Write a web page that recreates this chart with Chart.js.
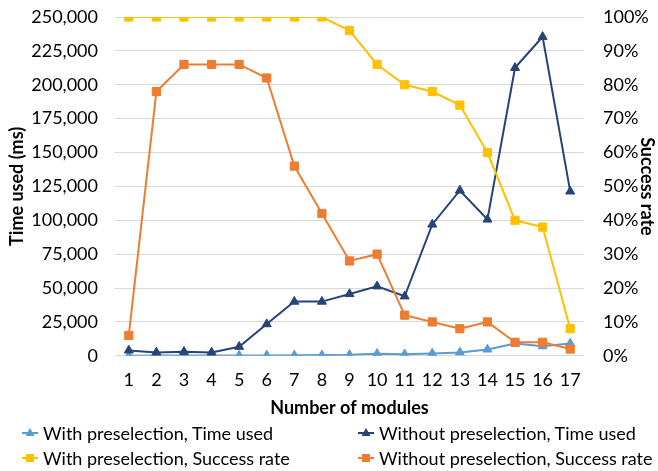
<!DOCTYPE html>
<html>
<head>
<meta charset="utf-8">
<script src="https://cdn.jsdelivr.net/npm/chart.js@4/dist/chart.umd.min.js"></script>
<style>
  html, body { margin: 0; padding: 0; background: #ffffff; }
  #wrap { position: relative; width: 658px; height: 471px; }
  #chart { position: absolute; left: 0; top: 0; }
  #legend { position: absolute; left: 0; top: 0; width: 658px; height: 471px; pointer-events: none;
            font-family: Lato, "Open Sans", sans-serif; font-size: 18px; color: #000; }
  .item { position: absolute; display: flex; align-items: center; white-space: nowrap; height: 24px; }
  .item svg { margin-right: 5px; }
</style>
</head>
<body>
<div id="wrap">
  <canvas id="chart" width="658" height="471"></canvas>
  <div id="legend"></div>
</div>
<script>
// Number of modules on the x axis
const modules = ['1','2','3','4','5','6','7','8','9','10','11','12','13','14','15','16','17'];

// Time used (ms)
const timeWithPreselection = [100, 150, 200, 200, 250, 300, 350, 500, 700, 1500, 1200, 1700, 2500, 4700, 9100, 7100, 9100];
const timeWithoutPreselection = [4000, 2500, 3000, 2500, 6700, 23400, 40000, 40000, 45600, 51300, 43900, 96900, 122000, 100600, 212500, 235400, 121300];

// Success rate (%)
const rateWithPreselection = [100, 100, 100, 100, 100, 100, 100, 100, 96, 86, 80, 78, 74, 60, 40, 38, 8];
const rateWithoutPreselection = [6, 78, 86, 86, 86, 82, 56, 42, 28, 30, 12, 10, 8, 10, 4, 4, 2];

// Axis tick values
const timeTicks = [0, 25000, 50000, 75000, 100000, 125000, 150000, 175000, 200000, 225000, 250000];
const rateTicks = [0, 10, 20, 30, 40, 50, 60, 70, 80, 90, 100];

const FONT = 'Lato, "Open Sans", sans-serif';
const LIGHT_BLUE = '#5B9BD5';
const DARK_BLUE = '#264478';
const YELLOW = '#FFC000';
const ORANGE = '#ED7D31';

function series(label, data, color, style, axis, order) {
  return {
    label, data, yAxisID: axis, order,
    borderColor: color, backgroundColor: color,
    borderWidth: 2, pointStyle: style,
    pointRadius: style === 'rect' ? 5.8 : 5.2,
    pointBorderWidth: 1, pointBorderColor: color, pointBackgroundColor: color,
    tension: 0, fill: false
  };
}

const datasets = [
  series('With preselection, Time used', timeWithPreselection, LIGHT_BLUE, 'triangle', 'yTime', 3),
  series('Without preselection, Time used', timeWithoutPreselection, DARK_BLUE, 'triangle', 'yTime', 2),
  series('With preselection, Success rate', rateWithPreselection, YELLOW, 'rect', 'yRate', 1),
  series('Without preselection, Success rate', rateWithoutPreselection, ORANGE, 'rect', 'yRate', 0)
];

// Value axes keep a fixed width and let their end labels overhang the plot
function fixVertical(width) {
  return s => { s.width = width; s.paddingTop = 0; s.paddingBottom = 0; };
}

const chart = new Chart(document.getElementById('chart'), {
  type: 'line',
  data: { labels: modules, datasets },
  options: {
    responsive: false,
    animation: false,
    layout: { padding: { left: 0, right: 0, top: 17, bottom: 52 } },
    plugins: { legend: { display: false }, tooltip: { enabled: false } },
    scales: {
      x: {
        offset: true,
        grid: { display: false, drawTicks: false },
        border: { display: false },
        ticks: { color: '#000', font: { family: FONT, size: 18 }, padding: 14, maxRotation: 0, autoSkip: false },
        title: { display: true, text: 'Number of modules', color: '#000',
                 font: { family: FONT, size: 18, weight: 'bold' }, padding: { top: -8, bottom: 0 } }
      },
      yTime: {
        position: 'left', min: 0, max: 250000,
        afterBuildTicks: s => { s.ticks = timeTicks.map(v => ({ value: v })); },
        afterFit: fixVertical(115),
        grid: { color: '#D9D9D9', lineWidth: 1, drawTicks: false },
        border: { display: false },
        ticks: { color: '#000', font: { family: FONT, size: 18 }, padding: 17,
                 callback: v => v.toLocaleString('en-US') },
        title: { display: true, text: 'Time used (ms)', color: '#000',
                 font: { family: FONT, size: 18, weight: 'bold' }, padding: { top: 6, bottom: 0 } }
      },
      yRate: {
        position: 'right', min: 0, max: 100,
        afterBuildTicks: s => { s.ticks = rateTicks.map(v => ({ value: v })); },
        afterFit: fixVertical(74),
        grid: { drawOnChartArea: false, drawTicks: false },
        border: { display: false },
        ticks: { color: '#000', font: { family: FONT, size: 18 }, padding: 19,
                 callback: v => v + '%' },
        title: { display: true, text: 'Success rate', color: '#000',
                 font: { family: FONT, size: 18, weight: 'bold' }, padding: { top: 0, bottom: 0 } }
      }
    }
  }
});

// Legend laid out in two columns, built from the chart's datasets
const legendPos = [[22, 421], [358, 421], [22, 446], [358, 446]];
const legend = document.getElementById('legend');
chart.data.datasets.forEach((ds, i) => {
  const item = document.createElement('div');
  item.className = 'item';
  item.style.left = legendPos[i][0] + 'px';
  item.style.top = legendPos[i][1] + 'px';
  const c = ds.borderColor;
  const mark = ds.pointStyle === 'rect'
    ? `<rect x="4" y="4" width="8" height="8" fill="${c}"/>`
    : `<polygon points="8,3 12.5,11 3.5,11" fill="${c}"/>`;
  item.innerHTML = `<svg width="16" height="16" viewBox="0 0 16 16"><line x1="0" y1="8" x2="16" y2="8" stroke="${c}" stroke-width="2"/>${mark}</svg><span>${ds.label}</span>`;
  legend.appendChild(item);
});
</script>
</body>
</html>
